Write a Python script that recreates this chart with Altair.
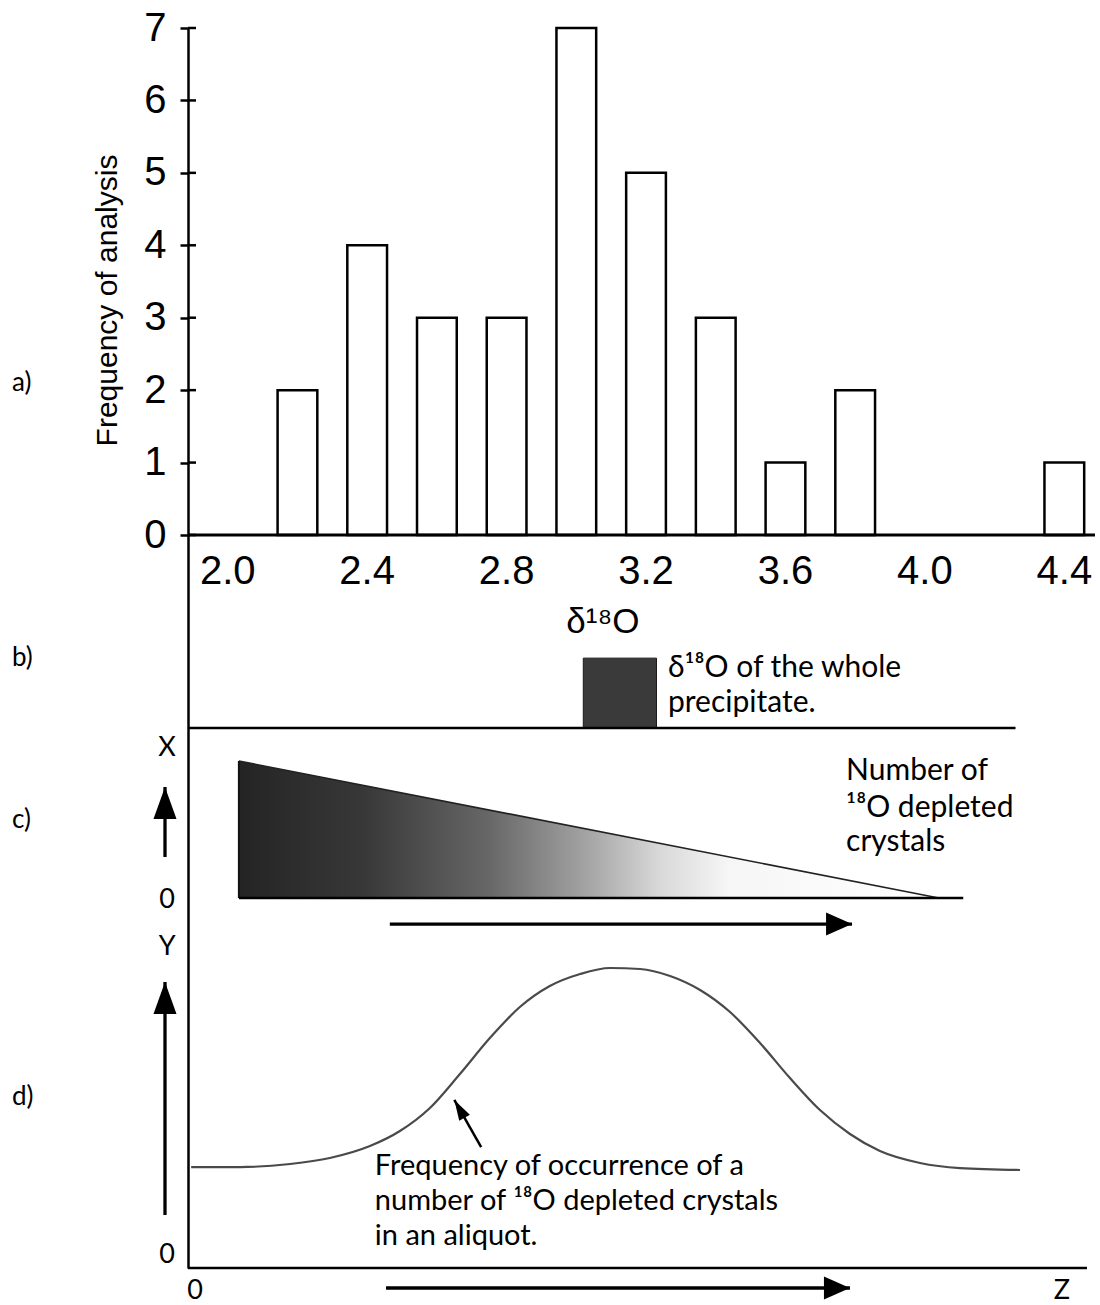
import altair as alt
import pandas as pd

# ---------------- a) histogram data ----------------
bin_centers = [2.2, 2.4, 2.6, 2.8, 3.0, 3.2, 3.4, 3.6, 3.8, 4.4]
frequencies = [2, 4, 3, 3, 7, 5, 3, 1, 2, 1]
x_tick_values = [2.0, 2.4, 2.8, 3.2, 3.6, 4.0, 4.4]
x_tick_labels = ["2.0", "2.4", "2.8", "3.2", "3.6", "4.0", "4.4"]
y_tick_values = [0, 1, 2, 3, 4, 5, 6, 7]

# ---------------- schematic panels (in the chart's own units) ----------------
# b) delta-18O of the whole precipitate
whole_band = {"lo": 3.02, "hi": 3.23, "top": -1.70, "base": -2.665}
b_baseline = {"x": 1.886, "x2": 4.26, "y": -2.665}
b_text = ["δ¹⁸O of the whole", "precipitate."]
b_text_y = [-1.84, -2.32]
b_text_x = 3.263

# c) number of 18O-depleted crystals (wedge)
wedge_x = [2.032, 4.04]
wedge_top = [-3.12, -5.012]
wedge_base = -5.012
c_baseline = {"x": 2.032, "x2": 4.11, "y": -5.012}
c_text = ["Number of", "¹⁸O depleted", "crystals"]
c_text_y = [-3.26, -3.77, -4.24]
c_text_x = 3.774

# d) frequency curve
curve_z = [1.895, 2.035, 2.179, 2.293, 2.408, 2.494, 2.580, 2.666, 2.752, 2.838,
           2.924, 3.011, 3.097, 3.183, 3.269, 3.355, 3.441, 3.527, 3.613, 3.699,
           3.785, 3.871, 3.986, 4.101, 4.273]
curve_y = [-8.726, -8.726, -8.684, -8.601, -8.436, -8.229, -7.911, -7.442, -6.945, -6.517,
           -6.227, -6.061, -5.978, -5.992, -6.089, -6.282, -6.586, -7.014, -7.497, -7.939,
           -8.270, -8.505, -8.670, -8.740, -8.767]
d_text = ["Frequency of occurrence of a", "number of ¹⁸O depleted crystals", "in an aliquot."]
d_text_y = [-8.712, -9.195, -9.679]
d_text_x = 2.422
d_pointer = {"x": 2.727, "y": -8.45, "x2": 2.650, "y2": -7.80}
d_bottom = {"x": 1.886, "x2": 4.465, "y": -10.12}

# axis arrows (vertical X / Y, horizontal)
v_arrows = [{"x": 1.820, "y": -4.446, "y2": -3.479}, {"x": 1.820, "y": -9.388, "y2": -6.171}]
h_arrows = [{"x": 2.465, "x2": 3.791, "y": -5.371}, {"x": 2.454, "x2": 3.785, "y": -10.396}]

side_letters = ["X", "0", "Y", "0"]
side_letters_y = [-2.941, -5.039, -5.688, -9.941]
side_letters_x = 1.826
bottom_letters = ["0", "Z"]
bottom_letters_x = [1.906, 4.393]
bottom_letters_y = -10.44

panel_labels = ["a)", "b)", "c)", "d)"]
panel_labels_y = [2.10, -1.70, -3.935, -7.76]
panel_labels_x = 1.381

xtick_label_y = -0.511
xtitle = {"x": 3.076, "y": -1.201, "t": "δ¹⁸O"}

# ---------------- scales ----------------
XD = [1.886, 4.488]
YD = [-10.12, 7.0]
xs = alt.Scale(domain=XD, nice=False, zero=False)
ys = alt.Scale(domain=YD, nice=False, zero=False)

yaxis = alt.Axis(values=y_tick_values, title="Frequency of analysis", grid=False,
                 domainColor="black", domainWidth=2.5, tickColor="black", tickWidth=2.5,
                 tickSize=8, labelFont="Liberation Sans", labelFontSize=40, labelColor="black",
                 labelPadding=14, titleFont="Liberation Sans", titleFontSize=30,
                 titleFontWeight="normal", titleColor="black", titleX=-81, titleY=272,
                 titleAngle=270, titleAlign="center", titleBaseline="middle")


def ex(f):
    return alt.X(f, type="quantitative", scale=xs, axis=None)


def ey(f):
    return alt.Y(f, type="quantitative", scale=ys, axis=yaxis)


SANS = "Lato, Open Sans, DejaVu Sans"
ARIAL = "Liberation Sans, Arial"
layers = []

# bars
bars_df = pd.DataFrame({"c": bin_centers, "f": frequencies})
layers.append(
    alt.Chart(bars_df)
    .transform_calculate(lo="datum.c - 0.057", hi="datum.c + 0.057", base="0")
    .mark_rect(fill="white", stroke="black", strokeWidth=2.5)
    .encode(x=ex("lo"), x2="hi", y=ey("f"), y2="base")
)
# inner half of the y ticks
layers.append(
    alt.Chart(pd.DataFrame({"v": y_tick_values}))
    .mark_rule(color="black", strokeWidth=2.5)
    .encode(x=alt.value(0), x2=alt.value(8), y=ey("v"))
)
# x axis line at zero
layers.append(
    alt.Chart(pd.DataFrame({"v": [0]}))
    .mark_rule(color="black", strokeWidth=2.8)
    .encode(x=alt.value(0), x2=alt.value(907), y=ey("v"))
)
# x tick labels
layers.append(
    alt.Chart(pd.DataFrame({"v": x_tick_values, "t": x_tick_labels, "y": [xtick_label_y] * len(x_tick_values)}))
    .mark_text(font=ARIAL, fontSize=40, color="black", align="center", baseline="middle")
    .encode(x=ex("v"), y=ey("y"), text="t:N")
)
layers.append(
    alt.Chart(pd.DataFrame([xtitle]))
    .mark_text(font=ARIAL, fontSize=35, color="black", align="center", baseline="middle")
    .encode(x=ex("x"), y=ey("y"), text="t:N")
)

# b) panel
layers.append(
    alt.Chart(pd.DataFrame([whole_band]))
    .mark_rect(fill="#3a3a3a", stroke="#1a1a1a", strokeWidth=1)
    .encode(x=ex("lo"), x2="hi", y=ey("top"), y2="base")
)
layers.append(
    alt.Chart(pd.DataFrame([b_baseline]))
    .mark_rule(color="black", strokeWidth=2.5)
    .encode(x=ex("x"), x2="x2", y=ey("y"))
)
layers.append(
    alt.Chart(pd.DataFrame({"t": b_text, "y": b_text_y, "x": [b_text_x] * 2}))
    .mark_text(font=SANS, fontSize=30, color="black", align="left", baseline="middle")
    .encode(x=ex("x"), y=ey("y"), text="t:N")
)

# c) panel wedge with gradient
grad = alt.LinearGradient(
    gradient="linear", x1=0, x2=1, y1=0, y2=0,
    stops=[alt.GradientStop(offset=0, color="#242424"),
           alt.GradientStop(offset=0.18, color="#383838"),
           alt.GradientStop(offset=0.36, color="#686868"),
           alt.GradientStop(offset=0.5, color="#a5a5a5"),
           alt.GradientStop(offset=0.6, color="#d8d8d8"),
           alt.GradientStop(offset=0.7, color="#f6f6f6"),
           alt.GradientStop(offset=1, color="#ffffff")])
wedge_df = pd.DataFrame({"x": wedge_x, "top": wedge_top, "base": [wedge_base] * 2})
layers.append(
    alt.Chart(wedge_df).mark_area(color=grad, opacity=1)
    .encode(x=ex("x"), y=ey("top"), y2="base")
)
layers.append(
    alt.Chart(wedge_df).mark_line(color="#222222", strokeWidth=1.6)
    .encode(x=ex("x"), y=ey("top"))
)
layers.append(
    alt.Chart(pd.DataFrame({"x": [wedge_x[0]], "y": [wedge_top[0]], "y2": [wedge_base]}))
    .mark_rule(color="#111111", strokeWidth=2)
    .encode(x=ex("x"), y=ey("y"), y2="y2")
)
layers.append(
    alt.Chart(pd.DataFrame([c_baseline]))
    .mark_rule(color="black", strokeWidth=2.5)
    .encode(x=ex("x"), x2="x2", y=ey("y"))
)
layers.append(
    alt.Chart(pd.DataFrame({"t": c_text, "y": c_text_y, "x": [c_text_x] * 3}))
    .mark_text(font=SANS, fontSize=30, color="black", align="left", baseline="middle")
    .encode(x=ex("x"), y=ey("y"), text="t:N")
)

# d) panel curve
layers.append(
    alt.Chart(pd.DataFrame({"z": curve_z, "y": curve_y}))
    .mark_line(color="#4a4a4a", strokeWidth=2.2, interpolate="monotone")
    .encode(x=ex("z"), y=ey("y"), order="z:Q")
)
layers.append(
    alt.Chart(pd.DataFrame([d_bottom]))
    .mark_rule(color="black", strokeWidth=2.5)
    .encode(x=ex("x"), x2="x2", y=ey("y"))
)
layers.append(
    alt.Chart(pd.DataFrame({"t": d_text, "y": d_text_y, "x": [d_text_x] * 3}))
    .mark_text(font=SANS, fontSize=29, color="black", align="left", baseline="middle")
    .encode(x=ex("x"), y=ey("y"), text="t:N")
)
# pointer arrow in d
layers.append(
    alt.Chart(pd.DataFrame([d_pointer]))
    .mark_rule(color="black", strokeWidth=2.5)
    .encode(x=ex("x"), x2="x2", y=ey("y"), y2="y2")
)
layers.append(
    alt.Chart(pd.DataFrame([d_pointer]))
    .mark_point(shape="M0,0 L0.6,2 L-0.6,2 Z", filled=True, fill="black", stroke=None,
                size=420, angle=330, opacity=1)
    .encode(x=ex("x2"), y=ey("y2"))
)

# vertical arrows
va_df = pd.DataFrame(v_arrows)
layers.append(
    alt.Chart(va_df).mark_rule(color="black", strokeWidth=3.3)
    .encode(x=ex("x"), y=ey("y"), y2="y2")
)
layers.append(
    alt.Chart(va_df)
    .mark_point(shape="M0,0 L0.72,2 L-0.72,2 Z", filled=True, fill="black", stroke=None,
                size=1024, opacity=1)
    .encode(x=ex("x"), y=ey("y2"))
)
# horizontal arrows
ha_df = pd.DataFrame(h_arrows)
layers.append(
    alt.Chart(ha_df).mark_rule(color="black", strokeWidth=3.3)
    .encode(x=ex("x"), x2="x2", y=ey("y"))
)
layers.append(
    alt.Chart(ha_df)
    .mark_point(shape="M0,0 L-2,-0.88 L-2,0.88 Z", filled=True, fill="black", stroke=None,
                size=676, opacity=1)
    .encode(x=ex("x2"), y=ey("y"))
)

# letters
layers.append(
    alt.Chart(pd.DataFrame({"t": side_letters, "y": side_letters_y, "x": [side_letters_x] * 4}))
    .mark_text(font=SANS, fontSize=27, color="black", align="center", baseline="middle")
    .encode(x=ex("x"), y=ey("y"), text="t:N")
)
layers.append(
    alt.Chart(pd.DataFrame({"t": bottom_letters, "x": bottom_letters_x, "y": [bottom_letters_y] * 2}))
    .mark_text(font=SANS, fontSize=27, color="black", align="center", baseline="middle")
    .encode(x=ex("x"), y=ey("y"), text="t:N")
)
layers.append(
    alt.Chart(pd.DataFrame({"t": panel_labels, "y": panel_labels_y, "x": [panel_labels_x] * 4}))
    .mark_text(font=SANS, fontSize=26, color="black", align="left", baseline="middle")
    .encode(x=ex("x"), y=ey("y"), text="t:N")
)

chart = (
    alt.layer(*layers)
    .properties(width=907, height=1240,
                autosize=alt.AutoSizeParams(type="none"),
                padding={"left": 188, "top": 28, "right": 5, "bottom": 37},
                background="white")
    .configure_view(stroke=None)
)

chart.save("out.html", embed_options={"renderer": "svg", "actions": False})
